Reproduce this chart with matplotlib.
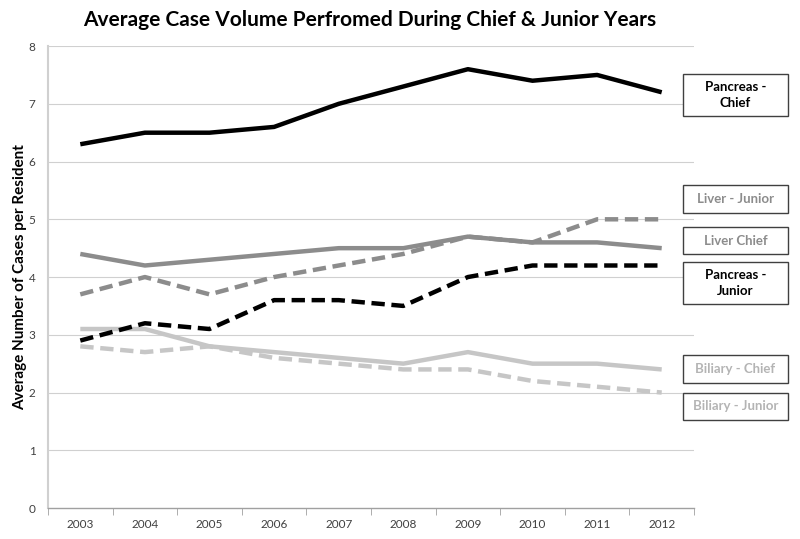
import matplotlib.pyplot as plt
import numpy as np
from matplotlib.patches import Rectangle

years = [2003, 2004, 2005, 2006, 2007, 2008, 2009, 2010, 2011, 2012]
pancreas_chief = [6.3, 6.5, 6.5, 6.6, 7.0, 7.3, 7.6, 7.4, 7.5, 7.2]
liver_chief = [4.4, 4.2, 4.3, 4.4, 4.5, 4.5, 4.7, 4.6, 4.6, 4.5]
liver_junior = [3.7, 4.0, 3.7, 4.0, 4.2, 4.4, 4.7, 4.6, 5.0, 5.0]
pancreas_junior = [2.9, 3.2, 3.1, 3.6, 3.6, 3.5, 4.0, 4.2, 4.2, 4.2]
biliary_chief = [3.1, 3.1, 2.8, 2.7, 2.6, 2.5, 2.7, 2.5, 2.5, 2.4]
biliary_junior = [2.8, 2.7, 2.8, 2.6, 2.5, 2.4, 2.4, 2.2, 2.1, 2.0]

plt.rcParams['font.family'] = ['Lato', 'DejaVu Sans']

black = "#000000"
mid = "#8c8c8c"
light = "#c6c6c6"

fig = plt.figure(figsize=(8, 5.39), dpi=100)
ax = fig.add_axes([0.06, 0.0575, 0.8075, 0.857])

x = np.arange(len(years))
lw = 3.2
ax.plot(x, pancreas_chief, color=black, lw=lw, solid_capstyle="butt", zorder=5)
ax.plot(x, liver_chief, color=mid, lw=lw, solid_capstyle="butt", zorder=4)
ax.plot(x, liver_junior, color=mid, lw=lw, ls=(0, (3, 1.5)), zorder=4)
ax.plot(x, pancreas_junior, color=black, lw=lw, ls=(0, (3, 1.5)), zorder=5)
ax.plot(x, biliary_chief, color=light, lw=lw, solid_capstyle="butt", zorder=3)
ax.plot(x, biliary_junior, color=light, lw=lw, ls=(0, (3, 1.5)), zorder=3)

ax.set_xlim(-0.5, len(years) - 0.5)
ax.set_ylim(0, 8)
ax.set_xticks(x)
ax.set_xticklabels([str(y) for y in years], fontsize=8.5, color="#404040")
ax.set_xticks(np.arange(-0.5, len(years)), minor=True)
ax.tick_params(axis="x", which="major", length=0, pad=8)
ax.tick_params(axis="x", which="minor", length=5, color="#a0a0a0", direction="out")
ax.set_yticks(range(0, 9))
ax.set_yticklabels([str(v) for v in range(0, 9)], fontsize=8.5, color="#404040")
ax.tick_params(axis="y", length=0, pad=9)

for v in range(1, 9):
    ax.axhline(v, color="#d0d0d0", lw=0.8, zorder=1)

for s in ["top", "right"]:
    ax.spines[s].set_visible(False)
ax.spines["left"].set_color("#d0d0d0")
ax.spines["left"].set_linewidth(1.5)
ax.spines["bottom"].set_color("#a0a0a0")
ax.spines["bottom"].set_linewidth(1)

ax.set_ylabel("Average Number of Cases per Resident", fontsize=11,
              fontweight="bold", labelpad=1)

fig.text(0.4625, 0.962, "Average Case Volume Perfromed During Chief & Junior Years",
         ha="center", va="center", fontsize=15, fontweight="bold")

# legend boxes on the right
labels = [
    ("Pancreas -\nChief", black),
    ("Liver - Junior", "#8c8c8c"),
    ("Liver Chief", "#8c8c8c"),
    ("Pancreas -\nJunior", black),
    ("Biliary - Chief", "#b4b4b4"),
    ("Biliary - Junior", "#b4b4b4"),
]
boxes = [(74, 116), (185, 213), (227, 254), (262, 304), (355, 383), (393, 420)]
for (text, col), (top, bot) in zip(labels, boxes):
    fig.patches.append(Rectangle((683 / 800, 1 - bot / 539), 105 / 800,
                                 (bot - top) / 539, transform=fig.transFigure,
                                 facecolor="white", edgecolor="#404040", lw=1))
    fig.text(735.5 / 800, 1 - (top + bot) / 2 / 539, text, ha="center", va="center",
             fontsize=9.5, fontweight="bold", color=col, linespacing=1.35)

plt.savefig("out.png", dpi=100)
